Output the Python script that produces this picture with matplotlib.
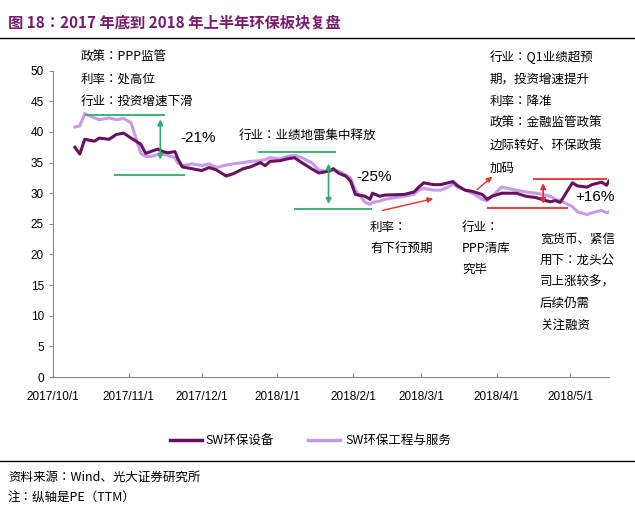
import pandas as pd
import matplotlib
matplotlib.use("Agg")
import matplotlib.pyplot as plt
from matplotlib import font_manager

CJK_NAMES = ["Noto Sans CJK SC", "Noto Sans CJK JP", "Noto Sans CJK TC", "Noto Sans CJK KR"]
available = {f.name for f in font_manager.fontManager.ttflist}
CJK = [n for n in CJK_NAMES if n in available] or ["DejaVu Sans"]
plt.rcParams["font.family"] = ["Liberation Sans"] + CJK

# === Daten ===
dates = ["2017-10-10", "2017-10-12", "2017-10-14", "2017-10-18", "2017-10-20", "2017-10-24",
         "2017-10-27", "2017-10-30", "2017-11-02", "2017-11-06", "2017-11-08", "2017-11-10",
         "2017-11-13", "2017-11-15", "2017-11-17", "2017-11-20", "2017-11-21", "2017-11-23",
         "2017-11-27", "2017-12-01", "2017-12-04", "2017-12-07", "2017-12-11", "2017-12-14",
         "2017-12-18", "2017-12-21", "2017-12-25", "2017-12-27", "2017-12-29", "2018-01-02",
         "2018-01-05", "2018-01-08", "2018-01-11", "2018-01-15", "2018-01-18", "2018-01-22",
         "2018-01-24", "2018-01-26", "2018-01-29", "2018-01-31", "2018-02-02", "2018-02-06",
         "2018-02-08", "2018-02-09", "2018-02-12", "2018-02-14", "2018-02-22", "2018-02-26",
         "2018-02-28", "2018-03-02", "2018-03-06", "2018-03-09", "2018-03-12", "2018-03-14",
         "2018-03-16", "2018-03-19", "2018-03-22", "2018-03-26", "2018-03-28", "2018-03-30",
         "2018-04-03", "2018-04-09", "2018-04-13", "2018-04-17", "2018-04-20", "2018-04-23",
         "2018-04-25", "2018-04-27", "2018-05-02", "2018-05-04", "2018-05-08", "2018-05-10",
         "2018-05-14", "2018-05-16", "2018-05-17"]
equipment = [37.5, 36.4, 38.8, 38.5, 39.0, 38.8, 39.6, 39.8, 39.0, 38.0, 36.5, 36.8,
             37.2, 36.8, 36.6, 36.8, 35.8, 34.3, 34.0, 33.7, 34.2, 33.8, 32.8, 33.2,
             34.0, 34.3, 35.0, 34.5, 35.2, 35.3, 35.6, 35.8, 35.0, 34.0, 33.3, 33.6,
             34.0, 33.3, 32.8, 32.0, 29.8, 29.5, 29.0, 30.0, 29.5, 29.7, 29.8, 30.2,
             31.0, 31.7, 31.4, 31.4, 31.7, 31.9, 31.2, 30.5, 30.3, 29.8, 29.0, 29.5,
             30.0, 30.0, 29.5, 29.3, 28.9, 28.6, 28.8, 28.5, 31.7, 31.2, 31.0, 31.4,
             31.8, 31.3, 32.0]
service = [40.8, 41.0, 43.0, 42.3, 42.0, 42.3, 42.0, 42.2, 41.5, 36.5, 36.0, 36.0,
           36.3, 36.4, 36.2, 35.8, 35.0, 34.5, 34.8, 34.5, 34.8, 34.2, 34.6, 34.8,
           35.0, 35.2, 35.3, 35.5, 35.8, 35.6, 36.0, 36.2, 35.8, 35.0, 33.8, 33.5,
           33.8, 33.6, 33.0, 32.5, 30.5, 28.5, 28.2, 28.5, 28.7, 29.0, 29.5, 29.8,
           30.5, 30.8, 30.5, 30.5, 31.0, 31.5, 31.0, 30.5, 30.0, 29.0, 28.8, 29.5,
           31.0, 30.5, 30.2, 30.0, 29.8, 29.5, 29.0, 28.8, 27.8, 27.0, 26.5, 26.8,
           27.2, 26.8, 27.0]
tick_dates = ["2017-10-01", "2017-11-01", "2017-12-01", "2018-01-01",
              "2018-02-01", "2018-03-01", "2018-04-01", "2018-05-01"]
tick_labels = ["2017/10/1", "2017/11/1", "2017/12/1", "2018/1/1",
               "2018/2/1", "2018/3/1", "2018/4/1", "2018/5/1"]

d = pd.to_datetime(dates)
T = pd.Timestamp
DARK = "#6a1060"
LIGHT = "#c79be8"
GREEN = "#2fae6b"
RED = "#e5322b"

W, H = 635, 513
fig = plt.figure(figsize=(W / 100, H / 100), dpi=100)
ax = fig.add_axes([53 / W, 1 - 377 / H, (609 - 53) / W, (377 - 70.7) / H])

ax.plot(d, service, color=LIGHT, lw=2.2, zorder=2)
ax.plot(d, equipment, color=DARK, lw=2.2, zorder=3)

ax.set_ylim(0, 50)
ax.set_yticks(range(0, 51, 5))
ax.set_xlim(T("2017-10-01"), T("2018-05-17"))
ax.set_xticks(pd.to_datetime(tick_dates))
ax.set_xticklabels(tick_labels)
ax.tick_params(axis="x", direction="in", length=3, labelsize=8.5, pad=10, color="#888888")
ax.tick_params(axis="y", direction="out", length=3, labelsize=8.5, color="#888888")
for s in ["top", "right"]:
    ax.spines[s].set_visible(False)
for s in ["left", "bottom"]:
    ax.spines[s].set_color("#888888")

# === Markierungen ===
ax.hlines(42.8, T("2017-10-14"), T("2017-11-16"), color=GREEN, lw=1.3)
ax.hlines(33.0, T("2017-10-26"), T("2017-11-24"), color=GREEN, lw=1.3)
ax.annotate("", xy=(T("2017-11-14"), 35.0), xytext=(T("2017-11-14"), 42.5),
            arrowprops=dict(arrowstyle="<|-|>", color=GREEN, lw=1.2, mutation_scale=8))
ax.hlines(36.7, T("2017-12-24"), T("2018-01-25"), color=GREEN, lw=1.3)
ax.hlines(27.5, T("2018-01-08"), T("2018-02-09"), color=GREEN, lw=1.3)
ax.annotate("", xy=(T("2018-01-22"), 27.8), xytext=(T("2018-01-22"), 35.3),
            arrowprops=dict(arrowstyle="<|-|>", color=GREEN, lw=1.2, mutation_scale=8))
ax.hlines(32.3, T("2018-04-16"), T("2018-05-16"), color=RED, lw=1.3)
ax.hlines(27.6, T("2018-03-28"), T("2018-04-30"), color=RED, lw=1.3)
ax.annotate("", xy=(T("2018-04-20"), 27.8), xytext=(T("2018-04-20"), 32.1),
            arrowprops=dict(arrowstyle="<|-|>", color=RED, lw=1.2, mutation_scale=8))
ax.annotate("", xy=(T("2018-03-07"), 29.2), xytext=(T("2018-02-12"), 27.1),
            arrowprops=dict(arrowstyle="-|>", color=RED, lw=1.0, mutation_scale=8))
ax.annotate("", xy=(T("2018-03-31"), 33.0), xytext=(T("2018-03-23"), 30.3),
            arrowprops=dict(arrowstyle="-|>", color=RED, lw=1.0, mutation_scale=8))


def px(x, y, s, size=9, **kw):
    kw.setdefault("family", CJK)
    fig.text(x / W, 1 - y / H, s, fontsize=size, va="center", ha="left", **kw)


# === Texte ===
px(8, 22, "图 18：2017 年底到 2018 年上半年环保板块复盘", size=11, color="#7a1a70", weight="bold")
fig.add_artist(plt.Line2D([0, 1], [1 - 38 / H, 1 - 38 / H], color="black", lw=1))

for i, s in enumerate(["政策：PPP监管", "利率：处高位", "行业：投资增速下滑"]):
    px(81, 57 + 22 * i, s)
px(239, 135, "行业：业绩地雷集中释放")
for i, s in enumerate(["行业：Q1业绩超预", "期，投资增速提升", "利率：降准",
                       "政策：金融监管政策", "边际转好、环保政策", "加码"]):
    px(490, 57 + 22.3 * i, s)
px(370, 227, "利率：")
px(370, 248, "有下行预期")
px(462, 227, "行业：")
px(462, 248, "PPP清库")
px(462, 269, "究毕")
for i, s in enumerate(["宽货币、紧信", "用下：龙头公", "司上涨较多，", "后续仍需", "关注融资"]):
    px(540, 239 + 21.5 * i, s)

px(180, 138, "-21%", size=11, family="Liberation Sans")
px(356, 177, "-25%", size=11, family="Liberation Sans")
px(575, 197, "+16%", size=11, family="Liberation Sans")

# === Legende ===
fig.add_artist(plt.Line2D([170 / W, 202 / W], [1 - 440 / H] * 2, color=DARK, lw=2.5))
px(205, 440, "SW环保设备")
fig.add_artist(plt.Line2D([308 / W, 340 / W], [1 - 440 / H] * 2, color=LIGHT, lw=2.5))
px(345, 440, "SW环保工程与服务")

fig.add_artist(plt.Line2D([0, 1], [1 - 461 / H] * 2, color="black", lw=1))
px(8, 477, "资料来源：Wind、光大证券研究所")
px(8, 498, "注：纵轴是PE（TTM）")

fig.savefig("out.png", dpi=100)
